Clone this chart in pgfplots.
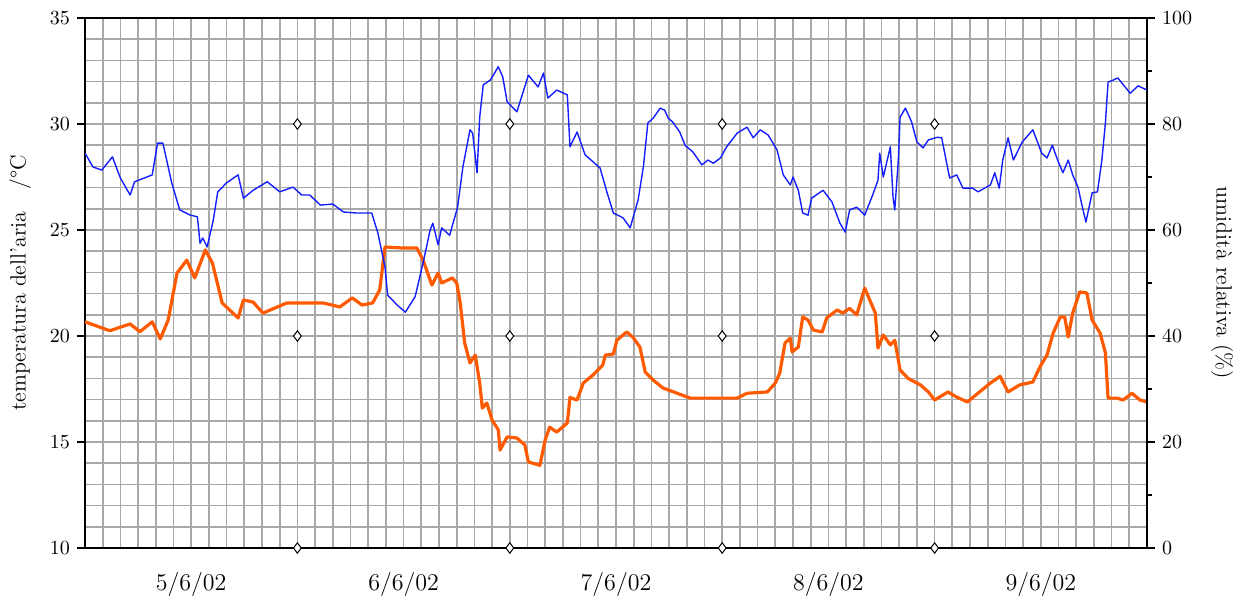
\documentclass[border=0pt]{standalone}
\usepackage{fontspec}
\usepackage{pgfplots}
\pgfplotsset{compat=1.18}
\definecolor{tempor}{RGB}{255,90,0}
\definecolor{umblue}{RGB}{20,30,255}
\definecolor{gridgray}{RGB}{168,168,168}

\begin{document}
\begin{tikzpicture}
% temperatura (asse sinistro) + griglia
\begin{axis}[
    name=ax,
    scale only axis,
    width=531pt, height=265pt,
    xmin=0, xmax=120,
    ymin=10, ymax=35,
    xtick={12,36,60,84,108},
    xticklabels={5/6/02,6/6/02,7/6/02,8/6/02,9/6/02},
    minor xtick={0,2,...,120},
    ytick={10,15,...,35},
    minor y tick num=4,
    xminorgrids=true, yminorgrids=true, ymajorgrids=true,
    grid style={gridgray, line width=0.85pt},
    minor grid style={gridgray, line width=0.85pt},
    major grid style={gridgray, line width=0.85pt},
    xtick pos=bottom, ytick pos=left,
    tick align=outside,
    major tick length=4pt, minor tick length=0pt,
    every major x tick/.append style={draw=none},
    axis line style={black, line width=0.7pt},
    tick style={black, line width=0.6pt},
    xticklabel style={font=\large, anchor=center, yshift=-14pt},
    yticklabel style={font=\normalsize},
    ylabel={temperatura dell'aria\quad/°C},
    ylabel style={font=\fontsize{11}{13}\selectfont, at={(axis description cs:-0.0612,0.5)}, anchor=center},
    clip mode=individual,
]
\addplot[color=tempor, line width=1.6pt, line join=round] coordinates {
(0,20.67)(2.8,20.25)(5.1,20.57)(6.2,20.2)(7.6,20.67)(8.5,19.86)(9.4,20.75)(10.4,22.97)
(11.5,23.58)(12.4,22.74)(13.6,24.06)(14.4,23.44)(15.5,21.56)(17.3,20.85)(17.9,21.7)(19.0,21.6)
(20.1,21.08)(22.8,21.56)(25.1,21.56)(26.9,21.56)(28.8,21.37)(30.2,21.8)(31.3,21.46)(32.5,21.56)
(33.3,22.17)(33.9,24.2)(35.9,24.15)(37.5,24.15)(38.2,23.58)(39.2,22.4)(39.9,22.97)(40.3,22.5)
(41.5,22.74)(42.0,22.5)(42.4,21.56)(42.9,19.67)(43.5,18.73)(44.1,19.1)(44.6,17.78)(44.9,16.6)
(45.4,16.84)(46.0,16.04)(46.7,15.57)(46.9,14.62)(47.7,15.24)(48.8,15.19)(49.7,14.86)(50.1,14.06)
(51.4,13.9)(52.0,15.1)(52.5,15.7)(53.3,15.47)(54.5,15.9)(54.8,17.1)(55.6,16.98)(56.3,17.78)
(57.4,18.16)(58.5,18.63)(58.8,19.1)(59.7,19.15)(60.1,19.8)(61.2,20.19)(61.9,19.95)(62.7,19.48)
(63.3,18.3)(64.2,17.92)(65.3,17.55)(66.9,17.3)(68.4,17.07)(70.3,17.07)(72.1,17.07)(73.7,17.07)
(74.8,17.3)(77.1,17.36)(78.0,17.78)(78.5,18.25)(79.1,19.67)(79.7,19.9)(79.9,19.25)(80.6,19.48)
(81.1,20.9)(81.7,20.75)(82.3,20.28)(83.3,20.19)(83.8,20.85)(85.0,21.23)(85.6,21.08)(86.4,21.3)
(87.2,21.0)(88.1,22.26)(89.3,21.08)(89.6,19.43)(90.2,20.05)(91.0,19.58)(91.5,19.8)(92.1,18.4)
(93.0,18.0)(94.4,17.69)(95.3,17.36)(96.0,16.98)(97.5,17.36)(98.5,17.12)(99.7,16.89)(100.9,17.3)
(102.3,17.78)(103.4,18.1)(104.3,17.36)(105.6,17.69)(107.1,17.83)(107.9,18.54)(108.7,19.1)(109.4,20.14)
(110.2,20.9)(110.7,20.9)(111.1,19.95)(111.6,21.08)(112.4,22.08)(113.2,22.03)(113.8,20.75)(114.7,20.14)
(115.3,19.2)(115.6,17.07)(116.6,17.07)(117.3,16.98)(118.3,17.3)(119.2,16.98)(120,16.89)
};
\addplot[only marks, mark=diamond*, mark size=2.6pt, mark options={fill=white, draw=black, line width=0.5pt}] coordinates {
(24,30)(48,30)(72,30)(96,30)
(24,20)(48,20)(72,20)(96,20)
(24,10)(48,10)(72,10)(96,10)
};
\end{axis}

% umidita relativa (asse destro)
\begin{axis}[
    scale only axis,
    width=531pt, height=265pt,
    xmin=0, xmax=120,
    ymin=0, ymax=100,
    hide x axis,
    axis y line*=right,
    ytick={0,20,...,100},
    minor y tick num=1,
    tick align=outside,
    major tick length=4pt, minor tick length=2.5pt,
    axis line style={black, line width=0.7pt},
    tick style={black, line width=0.6pt},
    yticklabel style={font=\normalsize},
    ylabel={umidità relativa (\%)},
    ylabel style={font=\fontsize{11}{13}\selectfont, at={(axis description cs:1.0706,0.5)}, anchor=center, rotate=180},
]
\addplot[color=umblue, line width=0.7pt, line join=round] coordinates {
(0,74.5)(0.9,71.9)(1.9,71.3)(3.1,73.8)(4.0,69.8)(5.1,66.6)(5.6,69.1)(7.6,70.4)
(8.2,76.4)(8.8,76.4)(9.8,68.9)(10.7,63.8)(11.9,62.8)(12.7,62.5)(13.0,57.5)(13.3,58.5)
(13.8,56.8)(14.5,61.9)(15.0,67.2)(16.0,68.9)(17.3,70.4)(17.9,66.0)(19.0,67.5)(20.6,69.1)
(22.0,67.2)(23.5,68.1)(24.5,66.6)(25.4,66.6)(26.6,64.7)(28.0,64.9)(29.2,63.4)(30.7,63.2)
(32.4,63.2)(33.1,59.4)(33.9,53.0)(34.2,47.7)(35.3,45.8)(36.2,44.5)(37.3,47.4)(38.2,53.8)
(39.0,60.0)(39.3,61.3)(39.9,57.2)(40.3,60.4)(41.2,59.0)(42.1,64.3)(42.7,71.9)(43.5,78.9)
(43.8,78.3)(44.3,70.8)(44.6,81.3)(45.0,87.4)(45.8,88.3)(46.7,90.8)(47.2,88.9)(47.7,84.2)
(48.8,82.3)(50.1,89.2)(51.2,87.0)(51.8,89.6)(52.3,84.9)(53.3,86.4)(54.5,85.5)(54.8,75.7)
(55.6,78.5)(56.5,74.2)(58.2,71.7)(59.0,67.0)(59.7,63.2)(60.8,62.3)(61.6,60.4)(62.5,65.7)
(63.1,72.0)(63.6,80.2)(64.2,81.1)(65.0,83.0)(65.5,82.6)(65.9,81.1)(66.4,80.4)(67.2,78.5)
(67.8,76.0)(68.7,74.7)(69.7,72.3)(70.4,73.2)(71.0,72.6)(71.8,73.6)(72.5,75.7)(73.7,78.3)
(74.8,79.4)(75.5,77.4)(76.3,78.9)(77.2,77.9)(78.2,75.1)(78.9,70.4)(79.7,68.5)(80.0,70.0)
(80.6,67.5)(81.1,63.2)(81.7,62.8)(82.1,66.0)(83.4,67.5)(84.4,65.3)(85.3,61.3)(85.9,59.6)
(86.4,63.8)(87.2,64.3)(88.1,62.8)(89.0,66.6)(89.6,69.4)(89.8,74.5)(90.2,70.0)(91.0,75.7)
(91.3,66.2)(91.5,63.8)(91.9,73.2)(92.1,81.3)(92.7,83.0)(93.4,80.4)(94.0,76.6)(94.7,75.5)
(95.3,77.0)(96.3,77.5)(96.8,77.4)(97.7,69.8)(98.5,70.4)(99.2,67.9)(100.3,67.9)(100.9,67.2)
(102.3,68.5)(102.8,70.8)(103.3,67.9)(103.7,73.2)(104.3,77.4)(104.9,73.2)(105.9,76.6)(107.1,78.9)
(108.1,74.5)(108.7,73.6)(109.3,76.0)(109.9,73.2)(110.5,70.8)(111.1,73.2)(111.6,70.4)(112.2,68.1)
(112.7,64.3)(113.1,61.5)(113.8,67.0)(114.4,67.2)(114.9,73.2)(115.3,80.2)(115.6,87.9)(116.2,88.3)
(116.7,88.7)(118.1,85.8)(119.0,87.2)(120,86.4)
};
\end{axis}
\pgfresetboundingbox
\path[use as bounding box] (-42.5pt,-27pt) rectangle (578.5pt,274pt);
\end{tikzpicture}
\end{document}
